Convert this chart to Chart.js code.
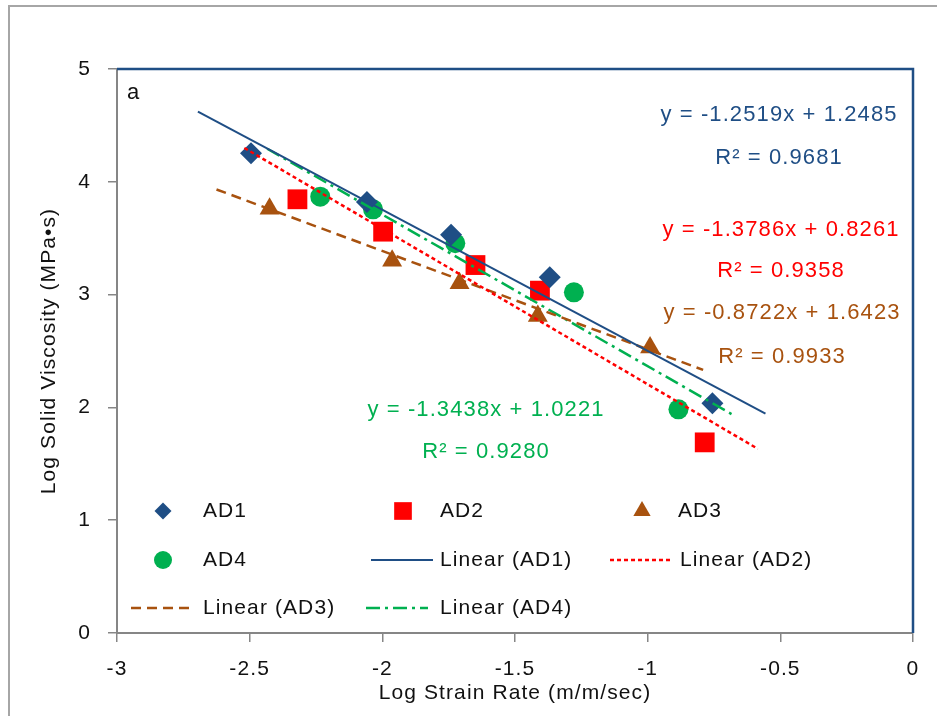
<!DOCTYPE html>
<html>
<head>
<meta charset="utf-8">
<script src="https://cdn.jsdelivr.net/npm/chart.js@4.4.0/dist/chart.umd.min.js"></script>
<style>
  html, body { margin: 0; padding: 0; background: #fff; }
  #wrap { width: 937px; height: 716px; }
</style>
</head>
<body>
<div id="wrap"><canvas id="chart" width="937" height="716"></canvas></div>
<script>
/* ================= DATA ================= */
const xTicks = [-3, -2.5, -2, -1.5, -1, -0.5, 0];
const yTicks = [0, 1, 2, 3, 4, 5];

const ad1X = [-2.495, -2.058, -1.741, -1.369, -0.756];
const ad1Y = [4.253, 3.82, 3.53, 3.153, 2.036];

const ad2X = [-2.32, -1.997, -1.649, -1.406, -0.785];
const ad2Y = [3.845, 3.558, 3.262, 3.035, 1.69];

const ad3X = [-2.425, -1.963, -1.709, -1.414, -0.991];
const ad3Y = [3.76, 3.30, 3.10, 2.81, 2.53];

const ad4X = [-2.234, -2.035, -1.725, -1.278, -0.884];
const ad4Y = [3.868, 3.756, 3.455, 3.02, 1.983];

// trendline end points (as drawn, incl. forecast)
const fit1X = [-2.695, -0.556];
const fit1Y = [4.622, 1.944];
const fit2X = [-2.52, -0.585];
const fit2Y = [4.300, 1.633];
const fit3X = [-2.625, -0.791];
const fit3Y = [3.932, 2.332];
const fit4X = [-2.434, -0.684];
const fit4Y = [4.293, 1.941];

const seriesNames = ["AD1", "AD2", "AD3", "AD4"];
const fitNames = ["Linear (AD1)", "Linear (AD2)", "Linear (AD3)", "Linear (AD4)"];
const fitEquations = ["y = -1.2519x + 1.2485", "y = -1.3786x + 0.8261", "y = -0.8722x + 1.6423", "y = -1.3438x + 1.0221"];
const fitR2 = ["R\u00B2 = 0.9681", "R\u00B2 = 0.9358", "R\u00B2 = 0.9933", "R\u00B2 = 0.9280"];

/* ================= STYLE ================= */
const FONT = '"Liberation Sans", Arial, sans-serif';
const SPACING = "1.1px";
const colors = ["#1f4e85", "#ff0000", "#a8520f", "#00b050"];
const markers = ["rectRot", "rect", "triangle", "circle"];
const markerSize = [11, 14, 11.5, 10];
const legendMarkerSize = [8.5, 12.5, 10, 9];
const dashes = [[], [4, 3], [10, 6], [14, 5, 3, 5]];

const pts = (xs, ys) => xs.map((x, i) => ({ x: x, y: ys[i] }));

const scatterSets = [[ad1X, ad1Y], [ad2X, ad2Y], [ad3X, ad3Y], [ad4X, ad4Y]].map((s, i) => ({
    type: "scatter",
    label: seriesNames[i],
    data: pts(s[0], s[1]),
    pointStyle: markers[i],
    pointRadius: markerSize[i],
    pointHoverRadius: markerSize[i],
    backgroundColor: colors[i],
    borderColor: colors[i],
    borderWidth: 0,
    order: 2
}));

const fitSets = [[fit1X, fit1Y], [fit2X, fit2Y], [fit3X, fit3Y], [fit4X, fit4Y]].map((s, i) => ({
    type: "line",
    label: fitNames[i],
    data: pts(s[0], s[1]),
    borderColor: colors[i],
    borderWidth: i === 0 ? 2 : 2.5,
    borderDash: dashes[i],
    pointRadius: 0,
    fill: false,
    tension: 0,
    order: 1
}));

/* ================= DECORATIONS ================= */
// equation labels: [center x, eq y, r2 y]
const eqPos = [[779, 115, 158], [781, 230, 271], [782, 313, 357], [486, 410, 452]];
// legend slots: symbol center x, text x, row y
const legendSlots = [
    [163, 203, 511], [403, 440, 511], [642, 678, 511],
    [163, 203, 560], [402, 440, 560], [641, 680, 560],
    [162, 203, 608], [397, 440, 608]
];

const decorations = {
    id: "decorations",
    beforeUpdate(chart) { chart.ctx.letterSpacing = SPACING; },
    beforeDraw(chart) {
        const ctx = chart.ctx;
        ctx.letterSpacing = SPACING;
        ctx.save();
        ctx.strokeStyle = "#a6a6a6";
        ctx.lineWidth = 2;
        ctx.strokeRect(9, 6, 1200, 1200);
        ctx.restore();
    },
    afterDraw(chart) {
        const ctx = chart.ctx;
        const a = chart.chartArea;
        ctx.save();

        // blue frame top & right
        ctx.strokeStyle = "#1f4e85";
        ctx.lineWidth = 2.5;
        ctx.beginPath();
        ctx.moveTo(a.left, a.top);
        ctx.lineTo(a.right, a.top);
        ctx.lineTo(a.right, a.bottom);
        ctx.stroke();

        ctx.font = "22px " + FONT;
        ctx.textBaseline = "middle";

        // panel letter
        ctx.fillStyle = "#111";
        ctx.textAlign = "left";
        ctx.fillText("a", a.left + 10, 93);

        // equations
        ctx.textAlign = "center";
        eqPos.forEach((p, i) => {
            ctx.fillStyle = colors[i];
            ctx.fillText(fitEquations[i], p[0], p[1]);
            ctx.fillText(fitR2[i], p[0], p[2]);
        });

        // legend
        ctx.font = "21px " + FONT;
        const items = scatterSets.concat(fitSets);
        items.forEach((ds, i) => {
            const s = legendSlots[i];
            if (ds.type === "scatter") {
                ctx.fillStyle = ds.backgroundColor;
                ctx.strokeStyle = ds.borderColor;
                Chart.helpers.drawPoint(ctx, {
                    pointStyle: ds.pointStyle,
                    radius: legendMarkerSize[i],
                    rotation: 0,
                    borderWidth: 0
                }, s[0], s[2]);
            } else {
                ctx.save();
                ctx.strokeStyle = ds.borderColor;
                ctx.lineWidth = ds.borderWidth;
                ctx.setLineDash(ds.borderDash);
                ctx.beginPath();
                ctx.moveTo(s[0] - 31, s[2]);
                ctx.lineTo(s[0] + 31, s[2]);
                ctx.stroke();
                ctx.restore();
            }
            ctx.fillStyle = "#111";
            ctx.textAlign = "left";
            ctx.fillText(ds.label, s[1], s[2]);
        });

        ctx.restore();
    }
};

/* ================= CHART ================= */
Chart.defaults.font.family = FONT;
Chart.defaults.font.size = 21;
Chart.defaults.color = "#111";

const canvas = document.getElementById("chart");
canvas.getContext("2d").letterSpacing = SPACING;

new Chart(canvas, {
    data: { datasets: scatterSets.concat(fitSets) },
    options: {
        responsive: false,
        animation: false,
        layout: { padding: { top: 69, right: 24, left: 0, bottom: 0 } },
        plugins: { legend: { display: false }, tooltip: { enabled: false } },
        scales: {
            x: {
                type: "linear",
                min: -3,
                max: 0,
                afterBuildTicks: s => { s.ticks = xTicks.map(v => ({ value: v })); },
                afterFit: s => { s.height = 83; },
                ticks: { padding: 15, maxRotation: 0, autoSkip: false, callback: v => String(v) },
                grid: { drawOnChartArea: false, tickLength: 9, color: "#868686", lineWidth: 1.5 },
                border: { color: "#868686", width: 2 },
                title: { display: true, text: "Log Strain Rate (m/m/sec)", font: { size: 21 }, padding: { top: 0, bottom: 10 } }
            },
            y: {
                type: "linear",
                min: 0,
                max: 5,
                afterBuildTicks: s => { s.ticks = yTicks.map(v => ({ value: v })); },
                afterFit: s => { s.width = 117; },
                ticks: { padding: 17, callback: v => String(v) },
                grid: { drawOnChartArea: false, tickLength: 9, color: "#868686", lineWidth: 1.5 },
                border: { color: "#868686", width: 2 },
                title: { display: true, text: "Log Solid Viscosity (MPa\u2022s)", font: { size: 21 }, padding: { top: 37, bottom: 0 } }
            }
        }
    },
    plugins: [decorations]
});
</script>
</body>
</html>
